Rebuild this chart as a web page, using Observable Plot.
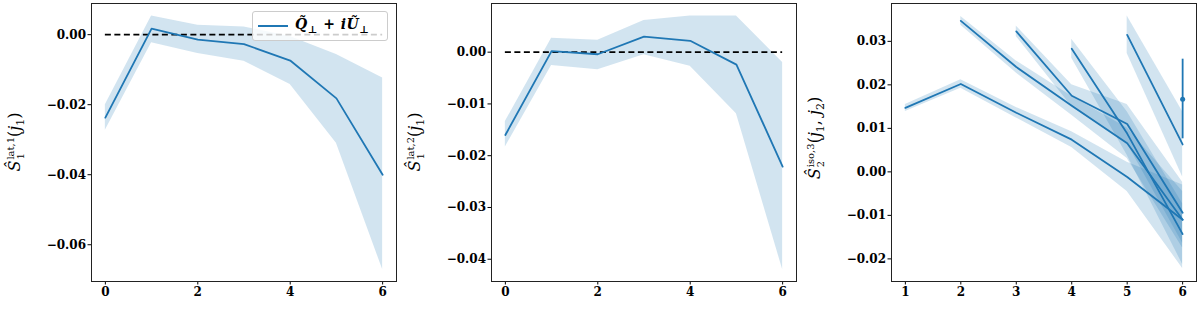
<!DOCTYPE html>
<html><head><meta charset="utf-8">
<script src="https://cdn.jsdelivr.net/npm/d3@7"></script>
<script src="https://cdn.jsdelivr.net/npm/@observablehq/plot@0.6"></script>
<style>
body{margin:0;background:#fff;}
#fig{display:flex;width:1200px;height:314px;overflow:hidden;}
.panel{position:relative;width:400px;height:314px;}
.panel svg{display:block;}
.ylab{position:absolute;font-family:"DejaVu Serif",serif;font-size:16px;line-height:16px;white-space:nowrap;transform:translate(-50%,-50%) rotate(-90deg);color:#000;}
.ylab i{font-style:italic;}
.st{display:inline-flex;flex-direction:column;font-size:10px;line-height:10px;vertical-align:6px;font-style:normal;margin-left:1px;}
.ylab sub{font-size:11px;font-style:normal;line-height:0;}
.legend{position:absolute;left:252px;top:11px;width:136px;height:30px;background:rgba(255,255,255,0.8);border:1px solid #ccc;border-radius:3px;box-sizing:border-box;font-family:"DejaVu Serif",serif;font-size:14px;font-weight:bold;}
.legend .sw{position:absolute;left:5px;top:13px;width:30px;border-top:2px solid #1f77b4;}
.legend .tx{position:absolute;left:42px;top:4px;white-space:nowrap;letter-spacing:0.5px;}
.legend sub{font-size:10px;}
</style>
</head><body>
<div id="fig"></div>
<script>
// ---------- data ----------
const j1 = [0, 1, 2, 3, 4, 5, 6];
// panel 1: S1^{lat,1}(j1)
const lat1Mean = [-0.0237, 0.0017, -0.0014, -0.0027, -0.0074, -0.0182, -0.0400];
const lat1Low  = [-0.0273, -0.0023, -0.0054, -0.0076, -0.0142, -0.0310, -0.0671];
const lat1High = [-0.0200, 0.0053, 0.0027, 0.0022, -0.0005, -0.0057, -0.0124];
// panel 2: S1^{lat,2}(j1)
const lat2Mean = [-0.0160, 0.0002, -0.0004, 0.0030, 0.0022, -0.0024, -0.0221];
const lat2Low  = [-0.0183, -0.0026, -0.0034, -0.0005, -0.0027, -0.0119, -0.0420];
const lat2High = [-0.0134, 0.0027, 0.0023, 0.0061, 0.0070, 0.0070, -0.0020];
// panel 3: S2^{iso,3}(j1, j2), one curve per j1
const isoSeries = ["j1=0", "j1=1", "j1=2", "j1=3", "j1=4"];
const isoJ2 = [[1, 2, 3, 4, 5, 6], [2, 3, 4, 5, 6], [3, 4, 5, 6], [4, 5, 6], [5, 6]];
const isoMean = [
  [0.0147, 0.0202, 0.0136, 0.0074, -0.0012, -0.0110],
  [0.0347, 0.0241, 0.0152, 0.0066, -0.0110],
  [0.0323, 0.0175, 0.0110, -0.0094],
  [0.0283, 0.0088, -0.0143],
  [0.0315, 0.0063]
];
const isoLow = [
  [0.0139, 0.0192, 0.0124, 0.0056, -0.0045, -0.0222],
  [0.0337, 0.0227, 0.0130, 0.0031, -0.0175],
  [0.0311, 0.0150, 0.0065, -0.0164],
  [0.0261, 0.0038, -0.0213],
  [0.0272, -0.0012]
];
const isoHigh = [
  [0.0155, 0.0212, 0.0148, 0.0092, 0.0022, -0.0030],
  [0.0357, 0.0255, 0.0174, 0.0101, -0.0045],
  [0.0335, 0.0200, 0.0155, -0.0024],
  [0.0305, 0.0138, -0.0073],
  [0.0358, 0.0138]
];
// single point j1=5, j2=6 with error bar
const isoPointJ2 = [6];
const isoPointMean = [0.0167];
const isoPointLow = [0.0076];
const isoPointHigh = [0.0259];

const xTicks1 = [0, 2, 4, 6];
const yTicks1 = [0, -0.02, -0.04, -0.06];
const yTicks2 = [0, -0.01, -0.02, -0.03, -0.04];
const xTicks3 = [1, 2, 3, 4, 5, 6];
const yTicks3 = [0.03, 0.02, 0.01, 0, -0.01, -0.02];
const zeroLine = [0];

// ---------- build ----------
const blue = "#1f77b4";
const rows1 = j1.map((j, i) => ({j, m: lat1Mean[i], lo: lat1Low[i], hi: lat1High[i]}));
const rows2 = j1.map((j, i) => ({j, m: lat2Mean[i], lo: lat2Low[i], hi: lat2High[i]}));
const rows3 = isoSeries.flatMap((s, k) => isoJ2[k].map((j, i) => ({s, j, m: isoMean[k][i], lo: isoLow[k][i], hi: isoHigh[k][i]})));
const pts3 = isoPointJ2.map((j, i) => ({j, m: isoPointMean[i], lo: isoPointLow[i], hi: isoPointHigh[i]}));

function makePlot(xDomain, xTicks, yDomain, yTicks, marks) {
  return Plot.plot({
    width: 400, height: 314,
    marginLeft: 91, marginRight: 4, marginTop: 3, marginBottom: 33,
    x: {domain: xDomain, ticks: xTicks, label: null, tickSize: 3.5, tickPadding: 2, tickFormat: d3.format("d")},
    y: {domain: yDomain, ticks: yTicks, label: null, tickSize: 3.5, tickPadding: 2, tickFormat: d3.format(".2f")},
    style: {fontFamily: "'DejaVu Serif', serif", fontSize: "12px", fontWeight: "bold", color: "#000", background: "white", overflow: "visible"},
    marks: [...marks, Plot.frame({stroke: "#222", strokeWidth: 1})]
  });
}

const p1 = makePlot([-0.3, 6.3], xTicks1, [-0.0705, 0.0089], yTicks1, [
  Plot.areaY(rows1, {x: "j", y1: "lo", y2: "hi", fill: blue, fillOpacity: 0.2}),
  Plot.ruleY(zeroLine, {x1: j1[0], x2: j1[j1.length - 1], stroke: "black", strokeWidth: 1.8, strokeDasharray: "6,3.5"}),
  Plot.lineY(rows1, {x: "j", y: "m", stroke: blue, strokeWidth: 1.8})
]);
const p2 = makePlot([-0.3, 6.3], xTicks1, [-0.0443, 0.0094], yTicks2, [
  Plot.areaY(rows2, {x: "j", y1: "lo", y2: "hi", fill: blue, fillOpacity: 0.2}),
  Plot.ruleY(zeroLine, {x1: j1[0], x2: j1[j1.length - 1], stroke: "black", strokeWidth: 1.8, strokeDasharray: "6,3.5"}),
  Plot.lineY(rows2, {x: "j", y: "m", stroke: blue, strokeWidth: 1.8})
]);
const p3 = makePlot([0.75, 6.25], xTicks3, [-0.0252, 0.0387], yTicks3, [
  Plot.areaY(rows3, {x: "j", y1: "lo", y2: "hi", z: "s", fill: blue, fillOpacity: 0.2}),
  Plot.lineY(rows3, {x: "j", y: "m", z: "s", stroke: blue, strokeWidth: 1.8}),
  Plot.ruleX(pts3, {x: "j", y1: "lo", y2: "hi", stroke: blue, strokeWidth: 1.8}),
  Plot.dot(pts3, {x: "j", y: "m", r: 2.5, fill: blue})
]);

const fig = document.getElementById("fig");
const labels = [
  '<i>Ŝ</i><span class="st"><span>lat,1</span><span>1</span></span>(<i>j</i><sub>1</sub>)',
  '<i>Ŝ</i><span class="st"><span>lat,2</span><span>1</span></span>(<i>j</i><sub>1</sub>)',
  '<i>Ŝ</i><span class="st"><span>iso,3</span><span>2</span></span>(<i>j</i><sub>1</sub>, <i>j</i><sub>2</sub>)'
];
const labelPos = [[16, 142], [16, 142], [16, 138]];
[p1, p2, p3].forEach((p, i) => {
  const d = document.createElement("div");
  d.className = "panel";
  d.appendChild(p);
  const l = document.createElement("div");
  l.className = "ylab";
  l.style.left = labelPos[i][0] + "px";
  l.style.top = labelPos[i][1] + "px";
  l.innerHTML = labels[i];
  d.appendChild(l);
  if (i === 0) {
    const lg = document.createElement("div");
    lg.className = "legend";
    lg.innerHTML = '<div class="sw"></div><div class="tx"><i>Q̃</i><sub>⊥</sub> + <i>iŨ</i><sub>⊥</sub></div>';
    d.appendChild(lg);
  }
  fig.appendChild(d);
});
</script>
</body></html>
